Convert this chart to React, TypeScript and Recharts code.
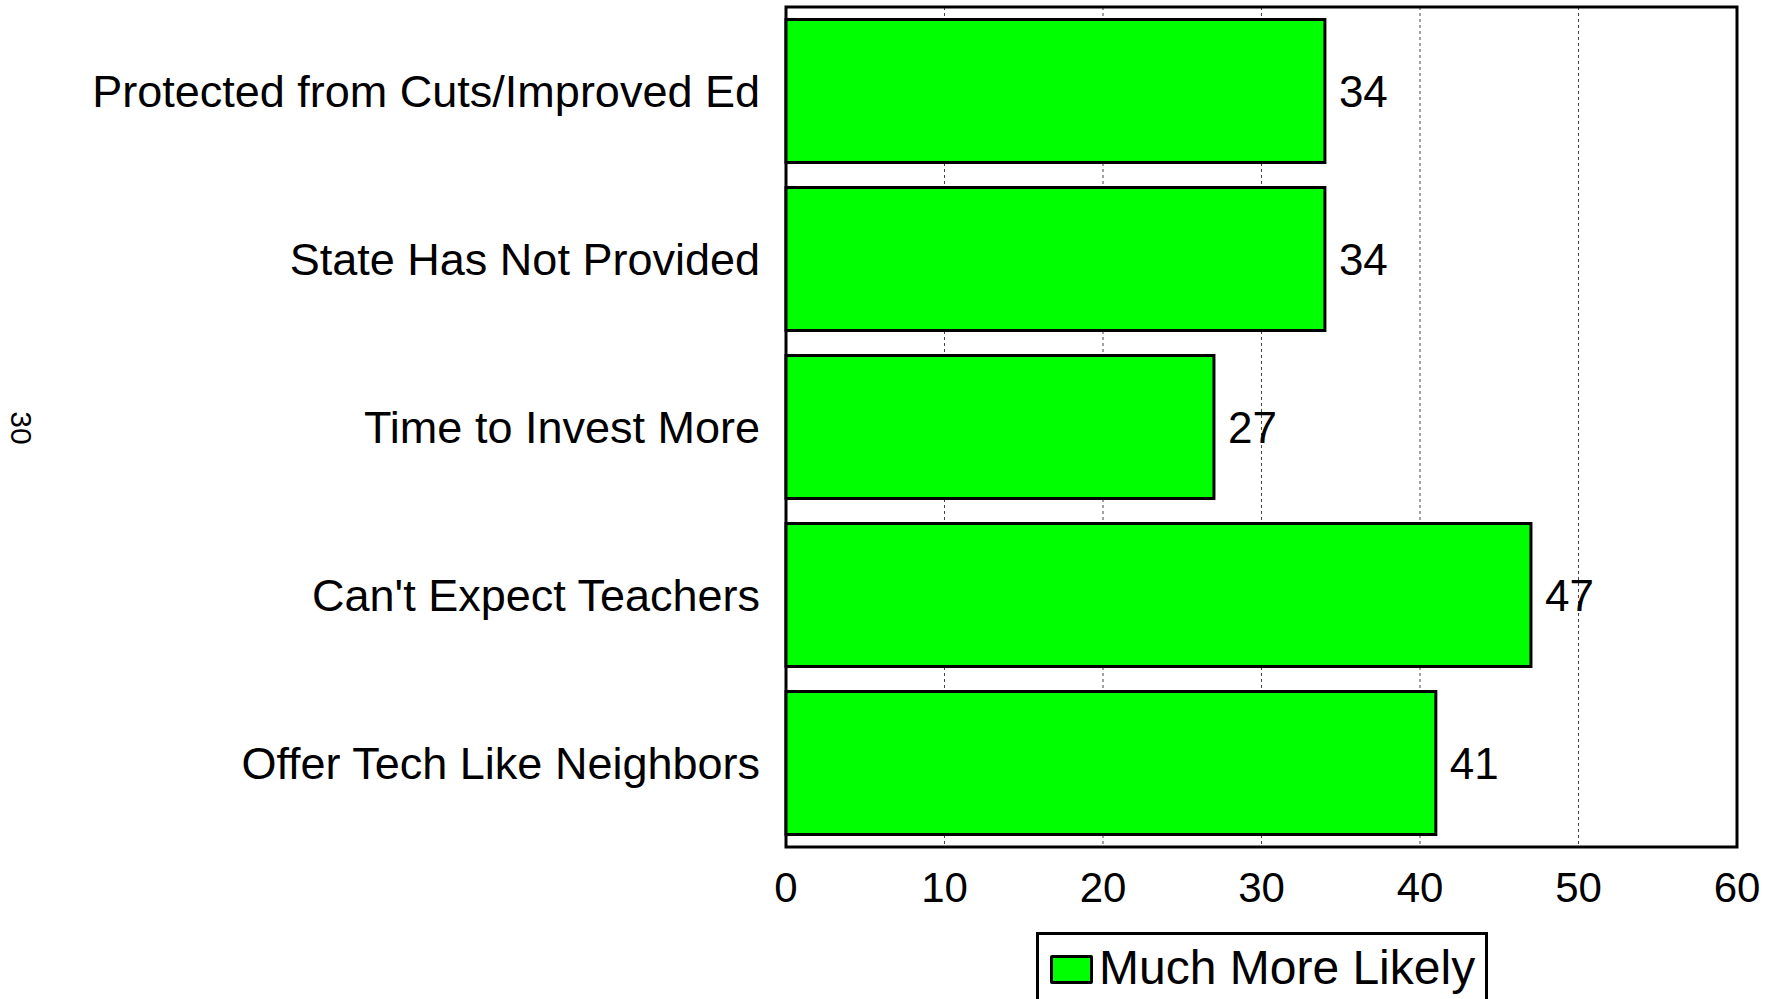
import { BarChart, Bar, XAxis, YAxis, CartesianGrid, LabelList, Legend, ReferenceArea, Customized } from 'recharts'

const categories = [
  'Protected from Cuts/Improved Ed',
  'State Has Not Provided',
  'Time to Invest More',
  "Can't Expect Teachers",
  'Offer Tech Like Neighbors',
]
const muchMoreLikely = [34, 34, 27, 47, 41]
const xTicks = [0, 10, 20, 30, 40, 50, 60]
const seriesName = 'Much More Likely'
const sideNote = '30'

const FONT = '"Liberation Sans", Arial, sans-serif'
const GREEN = '#00ff00'

const data = categories.map((name, i) => ({ name, value: muchMoreLikely[i] }))

// category label on the left, right aligned against the frame
function CategoryTick(props: any) {
  const { x, y, payload } = props
  return (
    <text x={x - 24} y={y} dy="0.36em" textAnchor="end" fontSize={45} fontFamily={FONT} fill="#000">
      {payload.value}
    </text>
  )
}

function LegendBox() {
  return (
    <div
      style={{
        border: '3px solid #000',
        width: 452,
        height: 80,
        boxSizing: 'border-box',
        display: 'flex',
        alignItems: 'flex-start',
        paddingLeft: 11,
        paddingTop: 14,
        fontFamily: FONT,
        fontSize: 48,
        lineHeight: '38px',
        background: '#fff',
      }}
    >
      <span
        style={{
          display: 'inline-block',
          width: 37,
          height: 23,
          background: GREEN,
          border: '3px solid #000',
          borderRadius: 2,
          marginRight: 6,
          marginTop: 6,
        }}
      />
      <span>{seriesName}</span>
    </div>
  )
}

function SideNote() {
  return (
    <text
      x={22}
      y={428}
      transform="rotate(90 22 428)"
      textAnchor="middle"
      dy="0.36em"
      fontSize={30}
      fontFamily={FONT}
      fill="#000"
    >
      {sideNote}
    </text>
  )
}

export default function App() {
  return (
    <div style={{ position: 'absolute', left: 0, top: 0, width: 1775, height: 999, background: '#fff', overflow: 'hidden' }}>
      <BarChart
        width={1775}
        height={999}
        data={data}
        layout="vertical"
        margin={{ top: 7, right: 38, bottom: 0, left: 0 }}
        barCategoryGap="7.5%"
      >
        <CartesianGrid horizontal={false} stroke="#444" strokeDasharray="3 3" strokeWidth={1} />
        <XAxis
          type="number"
          domain={[0, 60]}
          ticks={xTicks}
          interval={0}
          height={152}
          axisLine={false}
          tickLine={false}
          tickSize={0}
          tickMargin={25}
          tick={{ fontSize: 42, fontFamily: FONT, fill: '#000' }}
        />
        <YAxis
          type="category"
          dataKey="name"
          width={786}
          axisLine={false}
          tickLine={false}
          tickSize={0}
          tick={<CategoryTick />}
          interval={0}
        />
        <Bar dataKey="value" name={seriesName} fill={GREEN} stroke="#000" strokeWidth={3} isAnimationActive={false}>
          <LabelList dataKey="value" position="right" offset={14} fontSize={44} fontFamily={FONT} fill="#000" />
        </Bar>
        <ReferenceArea x1={0} x2={60} fill="none" fillOpacity={0} stroke="#000" strokeWidth={3} ifOverflow="visible" />
        <Legend
          layout="horizontal"
          verticalAlign="middle"
          align="center"
          content={<LegendBox />}
          wrapperStyle={{ position: 'absolute', left: 1036, top: 932, width: 452 }}
        />
        <Customized component={<SideNote />} />
      </BarChart>
    </div>
  )
}
